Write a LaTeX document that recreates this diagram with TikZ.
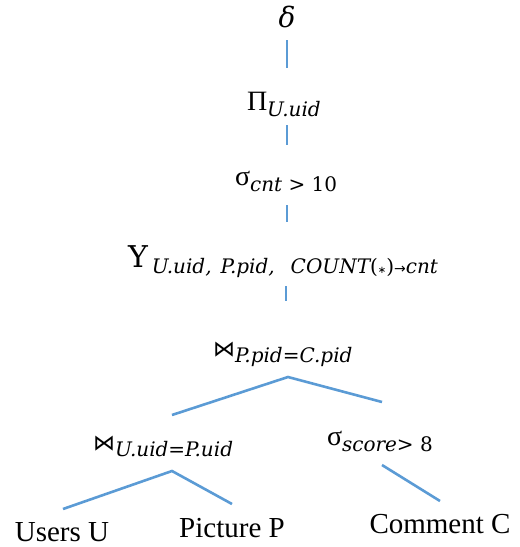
\documentclass[tikz,border=0pt]{standalone}
\usepackage{fontspec}
\setmainfont{Liberation Serif}
\newfontfamily\symfont{DejaVu Sans}
\newfontfamily\subfont{DejaVu Serif}
\definecolor{edgeblue}{HTML}{5B9BD5}
\newcommand{\bigsz}{\fontsize{28}{30}\selectfont}
\newcommand{\subsz}{\fontsize{20}{22}\selectfont}
\newcommand{\sub}[1]{\raisebox{-6pt}{\subfont\subsz\itshape #1}}
\newcommand{\bowt}{{\symfont\fontsize{22}{24}\selectfont ⋈}}
\begin{document}
\begin{tikzpicture}[x=1pt,y=-1pt,
  lbl/.style={anchor=base west,inner sep=0pt,outer sep=0pt},
  leaf/.style={anchor=base,inner sep=0pt,font=\fontsize{29}{31}\selectfont},
  edge/.style={draw=edgeblue,line width=2.6pt}]
\useasboundingbox (0,0) rectangle (520,547);
% nodes
\node[anchor=base,inner sep=0pt] (delta) at (287,27) {\bigsz\subfont\itshape δ};
\node[lbl] (proj) at (247,110) {\bigsz Π\sub{U.uid}};
\node[lbl] (sel) at (235,185) {\bigsz σ\sub{cnt {\upshape >} \upshape 10}};
\node[lbl] (grp) at (128,267) {{\fontsize{30}{32}\selectfont\subfont Υ}\hspace{4pt}\sub{U.uid,\hspace{9pt}P.pid,\hspace{16pt}COUNT{\upshape(}{\symfont\fontsize{10}{12}\selectfont ∗}{\upshape)}{\symfont\fontsize{14}{15}\selectfont →}cnt}};
\node[lbl] (j1) at (213,356) {\bowt\sub{P.pid{\upshape =}C.pid}};
\node[lbl] (j2) at (93,450) {\bowt\sub{U.uid{\upshape =}P.uid}};
\node[lbl] (sel2) at (327,445) {\bigsz σ\sub{score{\upshape > 8}}};
\node[leaf] (users) at (62,541) {Users U};
\node[leaf] (pic) at (232,537) {Picture P};
\node[leaf] (com) at (440,533) {Comment C};
% connector end points
\coordinate (a1) at (287,40);  \coordinate (a2) at (287,68);
\coordinate (b1) at (287,125); \coordinate (b2) at (287,145);
\coordinate (c1) at (287,205); \coordinate (c2) at (287,222);
\coordinate (d1) at (286,286); \coordinate (d2) at (286,301);
\coordinate (e0) at (288,377); \coordinate (eL) at (172,415); \coordinate (eR) at (382,402);
\coordinate (f0) at (172,471); \coordinate (fL) at (63,509); \coordinate (fR) at (232,504);
\coordinate (g1) at (382,465); \coordinate (g2) at (440,501);
% connectors
\draw[edge] (a1) -- (a2);
\draw[edge] (b1) -- (b2);
\draw[edge] (c1) -- (c2);
\draw[edge] (d1) -- (d2);
\draw[edge] (eL) -- (e0) -- (eR);
\draw[edge] (fL) -- (f0) -- (fR);
\draw[edge] (g1) -- (g2);
\end{tikzpicture}
\end{document}
